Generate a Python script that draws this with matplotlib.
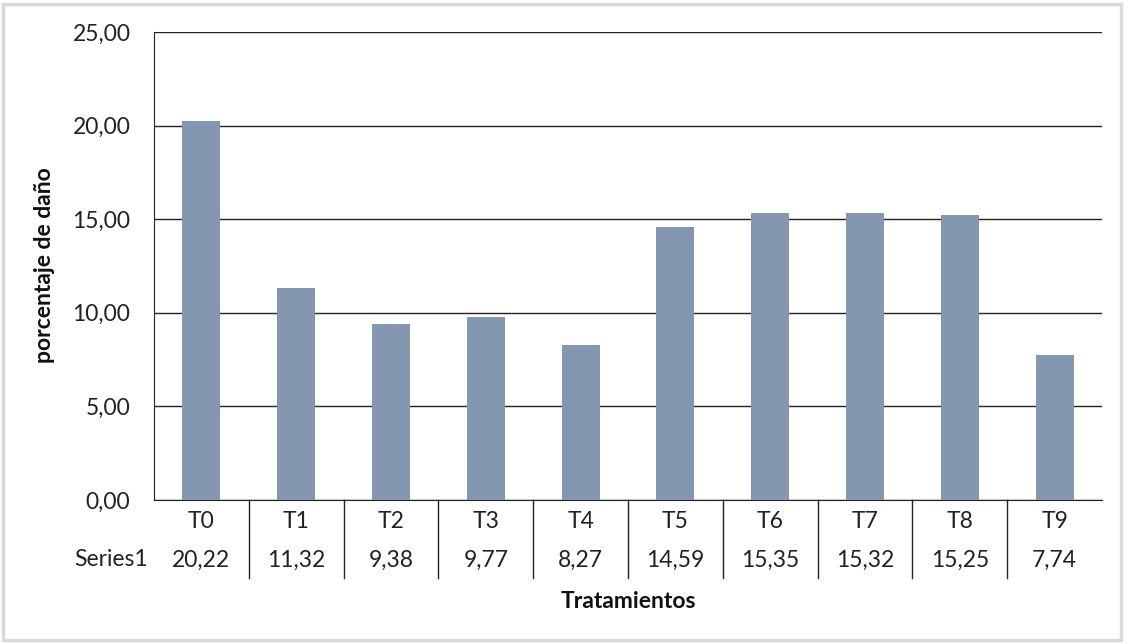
import matplotlib.pyplot as plt
import matplotlib.transforms as mtransforms
from matplotlib.patches import Rectangle
import numpy as np

# Datos
tratamientos = ['T0', 'T1', 'T2', 'T3', 'T4', 'T5', 'T6', 'T7', 'T8', 'T9']
dano = [20.22, 11.32, 9.38, 9.77, 8.27, 14.59, 15.35, 15.32, 15.25, 7.74]
yticks = [0, 5, 10, 15, 20, 25]

plt.rcParams['font.family'] = ['Lato', 'DejaVu Sans']
fs = 16.5

W, H = 1129, 644
fig = plt.figure(figsize=(W / 100, H / 100), dpi=100)

# marco gris del gráfico
fig.patches.append(Rectangle((3 / W, 4 / H), 1118 / W, 636 / H, transform=fig.transFigure,
                             fill=False, edgecolor='#d9d9d9', linewidth=2.5))

left, right, top, bottom = 154, 1102, 32, 500
ax = fig.add_axes([left / W, 1 - bottom / H, (right - left) / W, (bottom - top) / H])

x = np.arange(len(tratamientos))
ax.bar(x, dano, width=0.4, color='#8497b0', zorder=3)

ax.set_xlim(-0.5, len(tratamientos) - 0.5)
ax.set_ylim(0, 25)
ax.set_yticks(yticks)
ax.set_yticklabels([f'{v:.2f}'.replace('.', ',') for v in yticks], fontsize=fs, color='#222222')
ax.tick_params(axis='y', length=0, pad=17)
ax.set_xticks([])
ax.grid(axis='y', color='#222222', linewidth=1, zorder=0)
for s in ['top', 'right']:
    ax.spines[s].set_visible(False)
ax.spines['left'].set_color('#222222')
ax.spines['bottom'].set_color('#222222')

# tabla de datos bajo el eje
trans = mtransforms.blended_transform_factory(ax.transData, ax.transAxes)
hpx = bottom - top
for i in range(len(tratamientos) - 1):
    ax.plot([i + 0.5, i + 0.5], [0, -78 / hpx], transform=trans, color='#222222',
            linewidth=1, clip_on=False)
for i, (t, v) in enumerate(zip(tratamientos, dano)):
    ax.text(i, -21 / hpx, t, transform=trans, ha='center', va='center', fontsize=fs, color='#222222')
    ax.text(i, -60 / hpx, f'{v:.2f}'.replace('.', ','), transform=trans, ha='center', va='center',
            fontsize=fs, color='#222222')
ax.text(-0.56, -60 / hpx, 'Series1', transform=trans, ha='right', va='center', fontsize=fs, color='#222222')

fig.text((left + right) / 2 / W, 1 - 601 / H, 'Tratamientos', ha='center', va='center',
         fontsize=16.5, fontweight='bold', color='#111111')
fig.text(45 / W, 1 - 265 / H, 'porcentaje de daño', ha='center', va='center', rotation=90,
         fontsize=16.5, fontweight='bold', color='#111111')

fig.savefig('out.png', dpi=100, facecolor='white')
